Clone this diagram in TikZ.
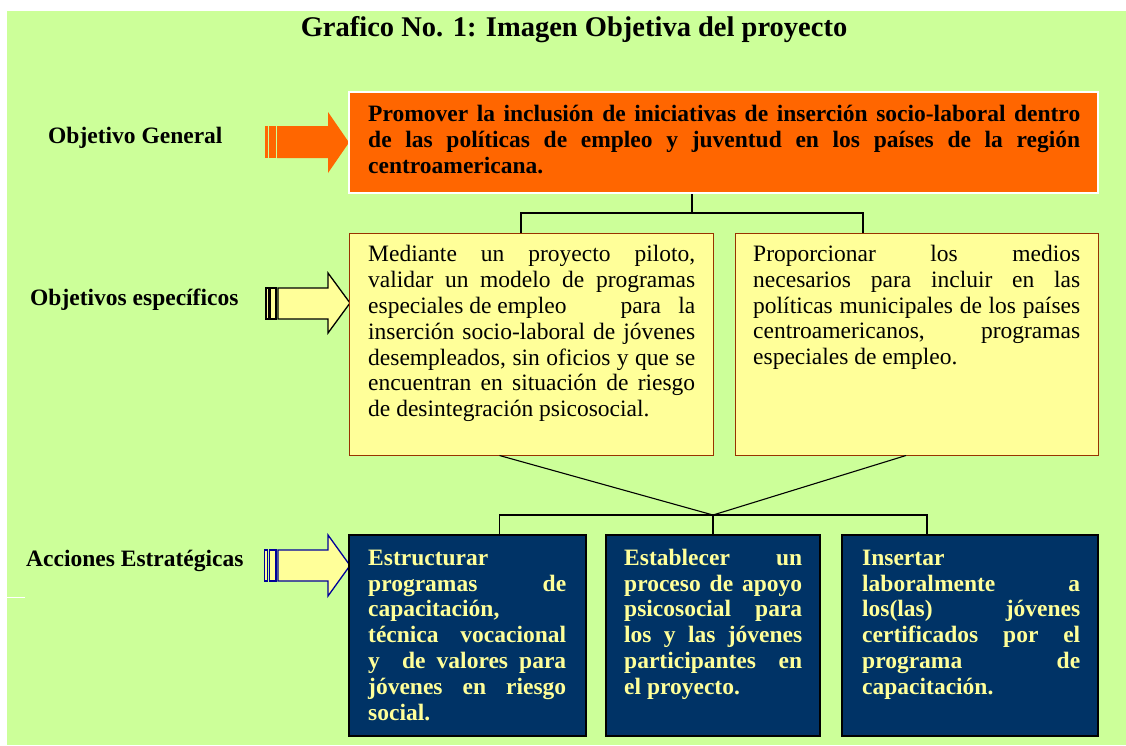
\documentclass[tikz,border=0pt]{standalone}
\usepackage{fontspec}
\setmainfont{Liberation Serif}
\definecolor{bg}{HTML}{CCFF99}
\definecolor{org}{HTML}{FF6600}
\definecolor{yel}{HTML}{FFFF99}
\definecolor{navybox}{HTML}{003366}
\definecolor{brd}{HTML}{993300}
\definecolor{arrblue}{HTML}{000099}
\newcommand{\J}[1]{\makebox[\hsize][s]{\spaceskip=0pt\xspaceskip=0pt\relax #1}}
\newcommand{\Lz}[1]{\mbox{\spaceskip=0pt\xspaceskip=0pt\relax #1}}
\begin{document}
\begin{tikzpicture}[x=1pt,y=-1pt,
  lab/.style={font=\fontsize{23.5}{25.8}\selectfont\bfseries, anchor=base west, inner sep=0},
  boxtxt/.style={font=\fontsize{23.5}{25.8}\selectfont, anchor=north west, inner sep=0, align=left},
  ogbox/.style={rectangle, draw=white, line width=2pt, fill=org, inner sep=0},
  spbox/.style={rectangle, draw=brd, line width=1pt, fill=yel, inner sep=0},
  acbox/.style={rectangle, draw=black, line width=1.2pt, fill=navybox, inner sep=0},
  conn/.style={draw=black, line width=1.4pt},
  conn2/.style={draw=black, line width=1.1pt}]
\useasboundingbox (0,0) rectangle (1126,745);
\fill[white] (0,0) rectangle (1126,745);
\fill[bg] (7,11) rectangle (1126,745);
\draw[white, line width=1pt] (7,597) -- (25,597);

% title
\node[font=\fontsize{28.5}{30}\selectfont\bfseries, anchor=base, inner sep=0] (title) at (574,36) {Grafico No. 1: Imagen Objetiva del proyecto};

% row labels
\node[lab] (l1) at (48,143) {Objetivo General};
\node[lab] (l2) at (30,305) {Objetivos específicos};
\node[lab] (l3) at (26,566) {Acciones Estratégicas};

% arrows
\fill[org] (265,126) rectangle (267.5,158);
\fill[org] (269,126) rectangle (276,158);
\fill[org] (277,126) -- (328,126) -- (328,112) -- (349,142.5) -- (328,173) -- (328,158) -- (277,158) -- cycle;

\begin{scope}[fill=yel, draw=black, line width=1.3pt]
\filldraw (266,288) rectangle (269,319);
\filldraw (270.5,288) rectangle (276,319);
\filldraw (278,288) -- (328,288) -- (328,273) -- (350,303) -- (328,333) -- (328,319) -- (278,319) -- cycle;
\end{scope}
\begin{scope}[fill=yel, draw=arrblue, line width=1.3pt]
\filldraw (264.5,550) rectangle (267.5,581);
\filldraw (269.5,550) rectangle (276,581);
\filldraw (278,550) -- (328,550) -- (328,535) -- (350,565.5) -- (328,596) -- (328,581) -- (278,581) -- cycle;
\end{scope}

% boxes
\node[ogbox, minimum width=749pt, minimum height=101pt] (og) at (723.5,142.5) {};
\node[spbox, minimum width=364pt, minimum height=222pt] (s1) at (531,344) {};
\node[spbox, minimum width=363pt, minimum height=222pt] (s2) at (916.5,344) {};
\node[acbox, minimum width=237pt, minimum height=201pt] (a1) at (467.5,635.5) {};
\node[acbox, minimum width=214pt, minimum height=201pt] (a2) at (713,635.5) {};
\node[acbox, minimum width=256pt, minimum height=201pt] (a3) at (970,635.5) {};

% texts
\node[boxtxt, text width=712pt, font=\fontsize{23.5}{25.8}\selectfont\bfseries] (ogt) at (368,103.5) {%
\J{\strut Promover la inclusión de iniciativas de inserción socio-laboral dentro}\\
\J{de las políticas de empleo y juventud en los países de la región}\\
\Lz{centroamericana.}};

\node[boxtxt, text width=327pt] (s1t) at (368,243.6) {%
\J{\strut Mediante un proyecto piloto,}\\
\J{validar un modelo de programas}\\
\makebox[\hsize][l]{\spaceskip=0pt\relax especiales de empleo\hspace{54pt}para\hfill la}\\
\J{inserción socio-laboral de jóvenes}\\
\J{desempleados, sin oficios y que se}\\
\J{encuentran en situación de riesgo}\\
\Lz{de desintegración psicosocial.}};

\node[boxtxt, text width=327pt] (s2t) at (753,243.3) {%
\J{\strut Proporcionar los medios}\\
\J{necesarios para incluir en las}\\
\J{políticas municipales de los países}\\
\J{centroamericanos, programas}\\
\Lz{especiales de empleo.}};

\node[boxtxt, text width=198pt, text=yel, font=\fontsize{23.5}{25.8}\selectfont\bfseries] (a1t) at (368,547) {%
\strut Estructurar\\
\J{programas de}\\
capacitación,\\
\J{técnica vocacional}\\
\J{y\ \ de valores para}\\
\J{jóvenes en riesgo}\\
social.};

\node[boxtxt, text width=178pt, text=yel, font=\fontsize{23.5}{25.8}\selectfont\bfseries] (a2t) at (624,547) {%
\J{\strut Establecer un}\\
\J{proceso de apoyo}\\
\J{psicosocial para}\\
\J{los y las jóvenes}\\
\J{participantes en}\\
\Lz{el proyecto.}};

\node[boxtxt, text width=218pt, text=yel, font=\fontsize{23.5}{25.8}\selectfont\bfseries] (a3t) at (862,547) {%
\strut Insertar\\
\J{laboralmente a}\\
\J{los(las) jóvenes}\\
\J{certificados por el}\\
\J{programa de}\\
capacitación.};

% connectors top
\coordinate (j1) at (692,213);
\coordinate (k1) at (521,213);
\coordinate (k2) at (863,213);
\draw[conn] (og.south -| j1) -- (j1);
\draw[conn] (k1 |- s1.north) -- (k1) -- (k2) -- (k2 |- s2.north);

% connectors bottom
\coordinate (j2) at (713,515);
\coordinate (c1) at (499.5,515);
\coordinate (c3) at (927,515);
\coordinate (d2) at (906,515);
\draw[conn2] (s1.south -| c1) -- (j2) -- (s2.south -| d2);
\draw[conn2] (c1 |- a1.north) -- (c1) -- (c3) -- (c3 |- a3.north);
\draw[conn2] (j2) -- (a2.north);
\end{tikzpicture}
\end{document}
